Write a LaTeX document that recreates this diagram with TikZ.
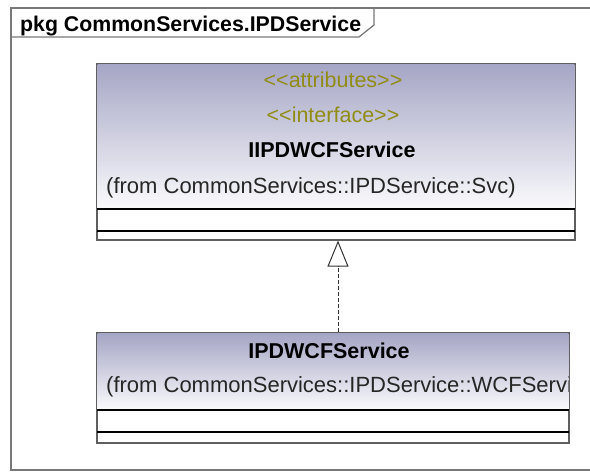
\documentclass[tikz,border=0pt]{standalone}
\usepackage{fontspec}
\setmainfont{Liberation Sans}
\usetikzlibrary{arrows.meta}
\definecolor{hdtop}{RGB}{166,166,198}
\definecolor{hdbot}{RGB}{250,250,252}
\definecolor{stereo}{RGB}{145,140,20}
\definecolor{frameg}{RGB}{120,120,120}
\definecolor{boxg}{RGB}{95,95,95}
\newcommand{\llq}{<\kern0pt<}
\newcommand{\rrq}{>\kern0pt>}
\tikzset{
  classbox/.style={draw=boxg, line width=1.2pt, inner sep=0pt, fill=white},
  comp/.style={draw=black, line width=1.3pt},
  stereotxt/.style={text=stereo, font=\fontsize{21.5}{24}\selectfont, anchor=base, inner sep=0pt},
  nametxt/.style={text=black, font=\fontsize{21.5}{24}\selectfont\bfseries, anchor=base, inner sep=0pt},
  fromtxt/.style={text=black!85, font=\fontsize{22}{24}\selectfont, anchor=base west, inner sep=0pt},
  realize/.style={draw=black!80, line width=0.9pt, dash pattern=on 4pt off 2pt,
    -{Triangle[open, length=26pt, width=21pt, line width=1pt, sep=0pt]}, shorten >=0pt},
  pkgframe/.style={draw=frameg, line width=1.3pt}
}
\begin{document}
\begin{tikzpicture}[x=1pt, y=-1pt]
\clip (0,0) rectangle (590,472);
\fill[white] (0,0) rectangle (590,472);
% package frame
\draw[pkgframe] (600,8) -- (11,8) -- (11,470) -- (600,470);
\draw[pkgframe] (11,37) -- (359,37) -- (374,25) -- (374,8);
\node[anchor=base west, inner sep=0pt, font=\fontsize{21.3}{24}\selectfont\bfseries] (title) at (20,31) {pkg CommonServices.IPDService};
% upper class
\node[classbox, minimum width=478pt, minimum height=176pt] (upper) at (336,152) {};
\shade[top color=hdtop, bottom color=hdbot] (97.6,64.6) rectangle (574.4,209);
\draw[comp] (97,209) -- (575,209);
\draw[comp] (97,231) -- (575,231);
\draw[draw=boxg, line width=1.2pt] (upper.north west) rectangle (upper.south east);
\node[stereotxt] (ua) at (333,87) {\llq attributes\rrq};
\node[stereotxt] (ui) at (333,122) {\llq interface\rrq};
\node[nametxt] (un) at (332,157) {IIPDWCFService};
\node[fromtxt] (uf) at (106,193) {(from CommonServices::IPDService::Svc)};
% lower class
\node[classbox, minimum width=472pt, minimum height=110pt] (lower) at (333,388) {};
\shade[top color=hdtop, bottom color=hdbot] (97.6,333.6) rectangle (568.4,410);
\draw[comp] (97,410) -- (569,410);
\draw[comp] (97,432) -- (569,432);
\draw[draw=boxg, line width=1.2pt] (lower.north west) rectangle (lower.south east);
\node[nametxt] (ln) at (329,358) {IPDWCFService};
\begin{scope}
\clip (97,333) rectangle (568,410);
\node[fromtxt] (lf) at (106,392) {(from CommonServices::IPDService::WCFService)};
\end{scope}
% realization
\coordinate (ax) at (338,0);
\draw[realize] (lower.north -| ax) -- (upper.south -| ax);
\end{tikzpicture}
\end{document}
